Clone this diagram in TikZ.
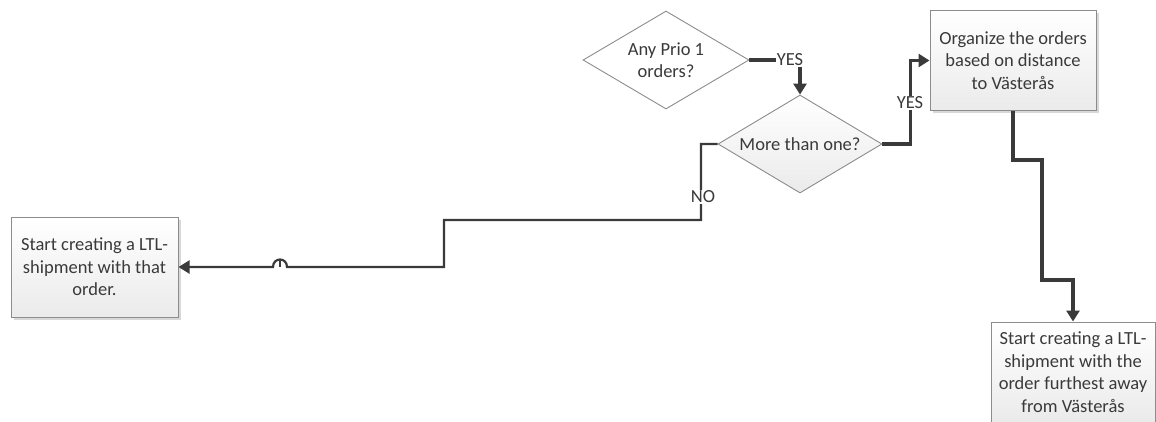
\documentclass[tikz,border=0pt]{standalone}
\usepackage{fontspec}
\setmainfont{Carlito}
\usetikzlibrary{shapes.geometric,arrows.meta,shadows}
\definecolor{ink}{HTML}{3A3A3A}
\definecolor{edge}{HTML}{8C8C8C}
\tikzset{
  base/.style={font=\fontsize{18.5}{22.5}\selectfont, text=ink, align=center},
  procbox/.style={base, draw=edge, line width=1pt, top color=white, bottom color=gray!16,
    inner sep=0pt, minimum height=100pt,
    drop shadow={shadow xshift=2.5pt, shadow yshift=-2.5pt, opacity=0.3, fill=gray}},
  decision/.style={base, diamond, draw=edge, line width=0.9pt, inner sep=0pt,
    shape aspect=1.7, minimum height=98pt},
  lbl/.style={base, fill=white, inner sep=1pt},
  flow/.style={draw=ink, line width=2.2pt, -{Triangle[width=13pt,length=11pt]}},
  flowthick/.style={flow, line width=3.4pt},
}
\begin{document}
\begin{tikzpicture}[x=1pt,y=-1pt]
  \clip (0,0) rectangle (1156,421);
  \fill[white] (0,0) rectangle (1156,421);

  % decisions
  \node[decision, fill=white, minimum width=166pt] (prio) at (666,60) {Any Prio 1\\orders?};
  \node[decision, top color=white, bottom color=gray!16, minimum width=164pt] (more) at (800,144) {More than one?};

  % process boxes
  \node[procbox, minimum width=166pt] (organize) at (1013,60.5)
    {Organize the orders\\based on distance\\to Västerås};
  \node[procbox, minimum width=167pt] (ltlone) at (94.5,267)
    {Start creating a LTL-\\shipment with that\\order.};
  \node[procbox, minimum width=164pt] (ltlfar) at (1073,372)
    {Start creating a LTL-\\shipment with the\\order furthest away\\from Västerås};

  % Prio 1 -> more than one
  \draw[flowthick] (prio.east) -| (more.north);
  \node[lbl] (yesa) at (790,60) {YES};

  % more than one -> organize
  \draw[flowthick] (more.east) -- ++(28,0) |- (organize.west);
  \node[lbl] (yesb) at (910,103) {YES};

  % organize -> furthest order
  \coordinate (oa) at (1013,160);
  \coordinate (ob) at (1042,280);
  \draw[flowthick] (organize.south) -- (oa) -| (ob) -| (ltlfar.north);

  % more than one -> single order, with a line hop
  \coordinate (na) at (701,220);
  \coordinate (nb) at (444,267);
  \coordinate (hopr) at (287,267);
  \coordinate (hopl) at (273,267);
  \draw[flow] (more.west) -| (na) -| (nb) -- (hopr)
    .. controls (287,257) and (273,257) .. (hopl) -- (ltlone.east);
  \draw[draw=ink, line width=1.4pt] (280,260) -- (hopr -| 280,0);
  \node[lbl] (no) at (703,197) {NO};
\end{tikzpicture}
\end{document}
